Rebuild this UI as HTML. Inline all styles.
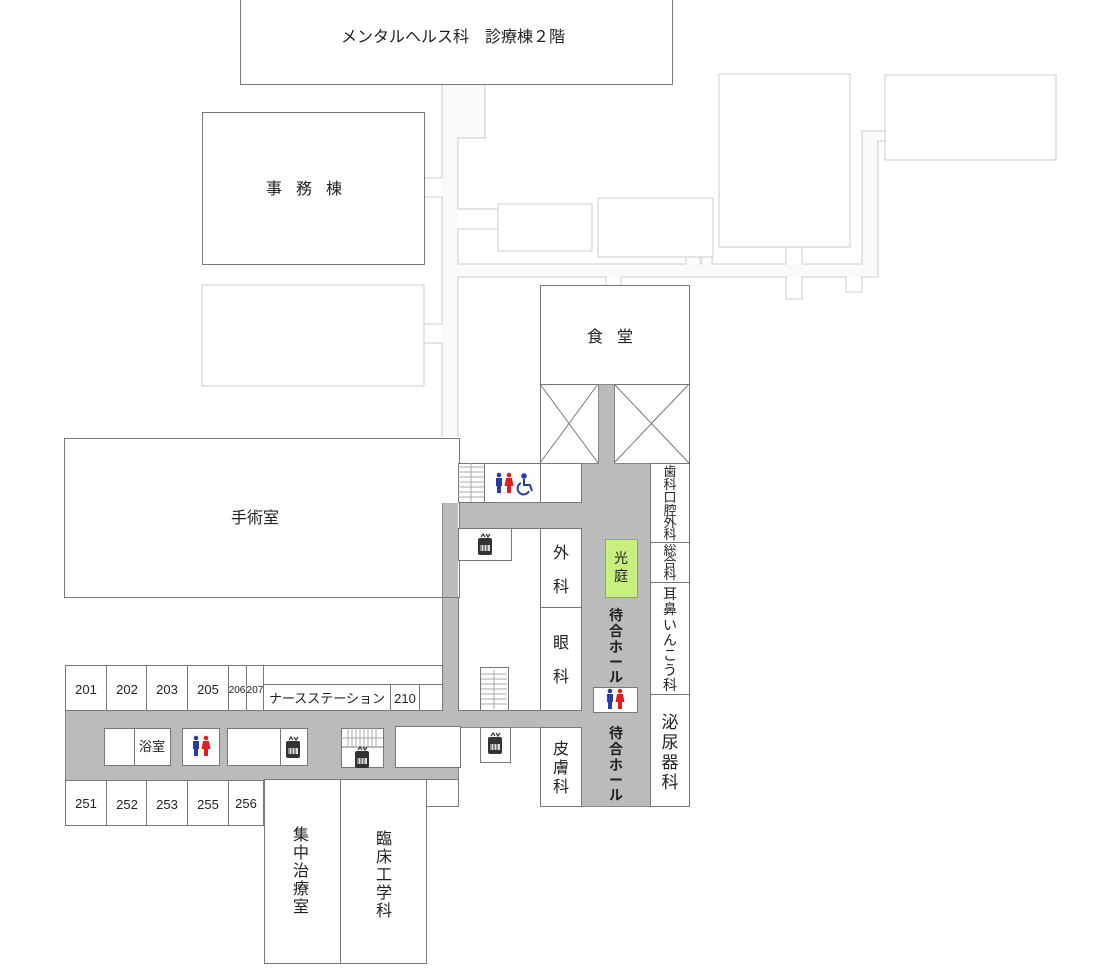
<!DOCTYPE html>
<html><head><meta charset="utf-8"><style>
html,body{margin:0;padding:0;background:#fff;}
svg{display:block;}
text{font-family:"Liberation Sans","Noto Sans CJK JP",sans-serif;fill:#222;}
.d{fill:#fff;stroke:#777;stroke-width:1;}
.l{fill:none;stroke:#ccc;stroke-width:1;}
.lb{fill:#fff;stroke:#ccc;stroke-width:1;}
.g{fill:#bbb;stroke:#888;stroke-width:1;}
</style></head><body>
<svg width="1118" height="975" viewBox="0 0 1118 975" xmlns="http://www.w3.org/2000/svg">
<defs>
<g id="elev"><rect x="-7" y="-8" width="14" height="17" rx="2" fill="#333"/><rect x="-5" y="-1" width="10" height="6" fill="#ddd"/><path d="M-4 -1v6M-1 -1v6M2 -1v6" stroke="#333" stroke-width="1"/><path d="M-4 -9l2-3 2 3M1 -12l2 3 2-3" stroke="#333" fill="none" stroke-width="1.2"/></g>
<g id="wc"><circle cx="-5" cy="-9" r="2.3" fill="#2a3aa8"/><rect x="-8" y="-6" width="6" height="8" fill="#2a3aa8"/><rect x="-7" y="2" width="4" height="7" fill="#2a3aa8"/><circle cx="5" cy="-9" r="2.3" fill="#e02020"/><path d="M2-6h6l1.5 8h-9z" fill="#e02020"/><rect x="3" y="2" width="4" height="7" fill="#e02020"/></g>
<g id="stairs" stroke="#aaa" stroke-width="1"><path d="M0 4h26M0 9h26M0 14h26M0 19h26M0 24h26M0 29h26M0 34h26"/><path d="M13 0v39"/></g>
</defs>

<rect x="442" y="85" width="16" height="352" fill="#fafafa"/>
<rect x="458" y="85" width="27" height="53" fill="#fafafa"/>
<rect x="458" y="264" width="420" height="13" fill="#fafafa"/>
<rect x="862" y="131" width="16" height="146" fill="#fafafa"/>
<path class="l" d="M442 85V178H424M424 197H442V324H424M424 343H442V437"/>
<path class="l" d="M485 85V138H458V209H498M498 229H458V264H686M700 264H702M712 264H786M802 264H862V131H885M885 141H878V277H862V292H846V277H802V299H786V277H621V285M606 285V277H458V437"/>
<path class="l" d="M686 257V264M700 257V264M702 257V264M712 257V264M786 247V264M802 247V264"/>
<rect class="lb" x="719" y="74" width="131" height="173"/>
<rect class="lb" x="885" y="75" width="171" height="85"/>
<rect class="lb" x="498" y="204" width="94" height="47"/>
<rect class="lb" x="598" y="198" width="115" height="59"/>
<rect class="lb" x="202" y="285" width="222" height="101"/>

<rect class="d" x="240.5" y="-1" width="432" height="85.5"/>
<text x="453" y="42" font-size="16" text-anchor="middle">メンタルヘルス科　診療棟２階</text>
<rect class="d" x="202.5" y="112.5" width="222" height="152"/>
<text x="311" y="194" font-size="16" text-anchor="middle" letter-spacing="14">事務棟</text>

<rect class="d" x="540.5" y="285.5" width="149" height="99"/>
<text x="617" y="342" font-size="16" text-anchor="middle" letter-spacing="14">食堂</text>
<rect class="d" x="540.5" y="384.5" width="58" height="79"/>
<path d="M540 384L598 463M598 384L540 463" stroke="#777"/>
<rect class="d" x="614.5" y="384.5" width="75" height="79"/>
<path d="M614 384L689 463M689 384L614 463" stroke="#777"/>
<rect class="g" x="598.5" y="384.5" width="16" height="79"/>

<path class="g" d="M442.5 502.5H581.5V463.5H650.5V806.5H581.5V727.5H458.5V780.5H65.5V710.5H442.5Z"/>
<rect x="599" y="455" width="15" height="12" fill="#bbb"/>
<rect class="d" x="458.5" y="528.5" width="82" height="182"/>
<rect class="g" x="386.5" y="533.5" width="56" height="32"/>
<text x="414" y="555" font-size="14" text-anchor="middle">待合</text>

<rect class="d" x="64.5" y="438.5" width="395" height="159"/>
<rect x="443" y="503" width="15" height="94" fill="#bbb"/>
<path d="M442.5 503V597.5" stroke="#888"/>
<text x="255" y="523" font-size="16" text-anchor="middle">手術室</text>

<rect class="d" x="458.5" y="463.5" width="26" height="39"/>
<use href="#stairs" x="458" y="463"/>
<rect class="d" x="484.5" y="463.5" width="56" height="39"/>
<use href="#wc" x="504" y="484"/>
<g transform="translate(526,484)" fill="none" stroke="#2a3aa8" stroke-width="2"><circle cx="-2" cy="-8" r="1.8" fill="#2a3aa8"/><path d="M-2-5v6h6l2 6"/><path d="M-5-1a6 6 0 1 0 8 8"/></g>
<rect class="d" x="540.5" y="463.5" width="41" height="39"/>
<rect class="d" x="458.5" y="528.5" width="53" height="32"/>
<use href="#elev" x="485" y="546"/>
<rect class="d" x="480.5" y="667.5" width="28" height="43"/>
<use href="#stairs" x="481" y="670"/>

<rect class="d" x="540.5" y="528.5" width="41" height="79"/>
<text x="561" y="558" font-size="16" text-anchor="middle">外</text>
<text x="561" y="592" font-size="16" text-anchor="middle">科</text>
<rect class="d" x="540.5" y="607.5" width="41" height="103"/>
<text x="561" y="648" font-size="16" text-anchor="middle">眼</text>
<text x="561" y="682" font-size="16" text-anchor="middle">科</text>
<rect class="d" x="540.5" y="727.5" width="41" height="79"/>
<g font-size="16" text-anchor="middle"><text x="561" y="754">皮</text><text x="561" y="773">膚</text><text x="561" y="792">科</text></g>

<rect x="605.5" y="539.5" width="32" height="58" fill="#c8f080" stroke="#999"/>
<g font-size="14" text-anchor="middle"><text x="621" y="563">光</text><text x="621" y="581">庭</text></g>
<g font-size="14" text-anchor="middle" font-weight="bold"><text x="616" y="620">待</text><text x="616" y="636">合</text><text x="616" y="652">ホ</text><text x="616" y="667">ー</text><text x="616" y="682">ル</text></g>
<rect class="d" x="593.5" y="687.5" width="44" height="25"/>
<use href="#wc" x="615" y="700"/>
<g font-size="14" text-anchor="middle" font-weight="bold"><text x="616" y="738">待</text><text x="616" y="754">合</text><text x="616" y="770">ホ</text><text x="616" y="785">ー</text><text x="616" y="800">ル</text></g>

<rect class="d" x="650.5" y="463.5" width="39" height="79"/>
<g font-size="13" text-anchor="middle"><text x="670" y="476">歯</text><text x="670" y="489">科</text><text x="670" y="502">口</text><text x="670" y="515">腔</text><text x="670" y="527">外</text><text x="670" y="539">科</text></g>
<rect class="d" x="650.5" y="542.5" width="39" height="40"/>
<g font-size="13" text-anchor="middle"><text x="670" y="555">総</text><text x="670" y="567">合</text><text x="670" y="579">科</text></g>
<rect class="d" x="650.5" y="582.5" width="39" height="112"/>
<g font-size="14" text-anchor="middle"><text x="670" y="599">耳</text><text x="670" y="614">鼻</text><text x="670" y="630">い</text><text x="670" y="645">ん</text><text x="670" y="660">こ</text><text x="670" y="675">う</text><text x="670" y="690">科</text></g>
<rect class="d" x="650.5" y="694.5" width="39" height="112"/>
<g font-size="17" text-anchor="middle"><text x="670" y="728">泌</text><text x="670" y="748">尿</text><text x="670" y="768">器</text><text x="670" y="788">科</text></g>

<rect class="d" x="480.5" y="727.5" width="30" height="35"/>
<use href="#elev" x="495" y="745"/>
<g font-size="13" text-anchor="middle">
<rect class="d" x="65.5" y="665.5" width="41" height="45"/><text x="86" y="694">201</text>
<rect class="d" x="106.5" y="665.5" width="40" height="45"/><text x="127" y="694">202</text>
<rect class="d" x="146.5" y="665.5" width="41" height="45"/><text x="167" y="694">203</text>
<rect class="d" x="187.5" y="665.5" width="41" height="45"/><text x="208" y="694">205</text>
<rect class="d" x="228.5" y="665.5" width="18" height="45"/><text x="237" y="693" font-size="10">206</text>
<rect class="d" x="246.5" y="665.5" width="17" height="45"/><text x="255" y="693" font-size="10">207</text>
<rect class="d" x="263.5" y="665.5" width="179" height="19"/>
<rect class="d" x="263.5" y="684.5" width="127" height="26"/><text x="327" y="703">ナースステーション</text>
<rect class="d" x="390.5" y="684.5" width="29" height="26"/><text x="405" y="703">210</text>
<rect class="d" x="419.5" y="684.5" width="23" height="26"/>
<rect class="d" x="65.5" y="780.5" width="41" height="45"/><text x="86" y="808">251</text>
<rect class="d" x="106.5" y="780.5" width="40" height="45"/><text x="127" y="809">252</text>
<rect class="d" x="146.5" y="780.5" width="41" height="45"/><text x="167" y="809">253</text>
<rect class="d" x="187.5" y="780.5" width="41" height="45"/><text x="208" y="809">255</text>
<rect class="d" x="228.5" y="780.5" width="35" height="45"/><text x="246" y="808">256</text>
<rect class="d" x="104.5" y="728.5" width="30" height="37"/>
<rect class="d" x="134.5" y="728.5" width="36" height="37"/><text x="152" y="751">浴室</text>
</g>
<rect class="d" x="182.5" y="728.5" width="37" height="37"/>
<use href="#wc" x="201" y="747"/>
<rect class="d" x="227.5" y="728.5" width="53" height="37"/>
<rect class="d" x="280.5" y="728.5" width="27" height="37"/>
<use href="#elev" x="293" y="749"/>
<rect class="d" x="341.5" y="728.5" width="42" height="39"/>
<path d="M341 747H383" stroke="#777"/>
<g stroke="#aaa"><path d="M348 728v19M352 728v19M356 728v19M360 728v19M364 728v19M368 728v19M372 728v19M376 728v19M341 738h42"/></g>
<use href="#elev" x="362" y="759"/>
<rect class="d" x="395.5" y="726.5" width="65" height="41"/>

<rect class="d" x="264.5" y="779.5" width="76" height="184"/>
<g font-size="16" text-anchor="middle"><text x="301" y="840">集</text><text x="301" y="858">中</text><text x="301" y="876">治</text><text x="301" y="894">療</text><text x="301" y="912">室</text></g>
<rect class="d" x="340.5" y="779.5" width="86" height="184"/>
<g font-size="16" text-anchor="middle"><text x="384" y="844">臨</text><text x="384" y="862">床</text><text x="384" y="880">工</text><text x="384" y="898">学</text><text x="384" y="916">科</text></g>
<rect class="d" x="426.5" y="779.5" width="32" height="27"/>
</svg>
</body></html>
